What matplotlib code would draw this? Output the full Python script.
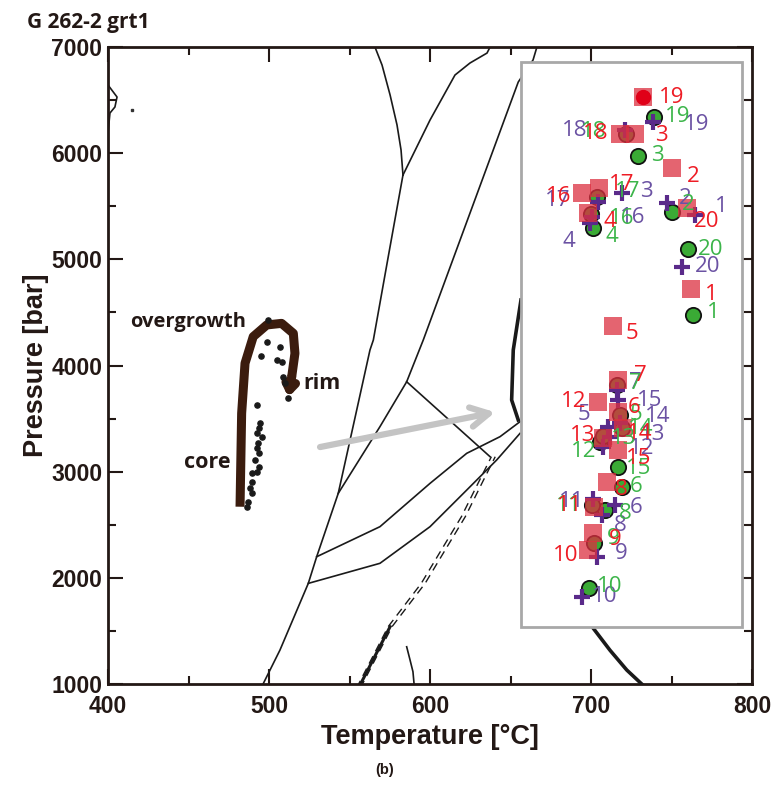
import numpy as np
import matplotlib.pyplot as plt
from matplotlib.patches import Rectangle

plt.rcParams['font.family'] = ['Open Sans', 'DejaVu Sans']

# analysis numbers 1..20 for each thermobarometer
ids = np.arange(1, 21)

red_T = [761.9, 750.1, 727.3, 698.3, 713.8, 716.9, 716.9, 709.7, 701.4, 698.3,
         701.9, 704.5, 707.6, 720.0, 716.9, 694.2, 705.0, 718.0, 732.1, 759.4]
red_P = [4718, 5857, 6181, 5439, 4372, 3565, 3863, 2906, 2420, 2262,
         2670, 3659, 3314, 3409, 3204, 5622, 5669, 6181, 6526, 5481]

green_T = [763.2, 750.1, 729.4, 701.4, 718.0, 719.1, 716.3, 708.7, 701.9, 698.9,
           700.4, 705.6, 707.6, 719.1, 716.9, 699.8, 703.9, 721.7, 739.1, 760.4]
green_P = [4476, 5449, 5973, 5292, 3534, 2858, 3816, 2639, 2325, 1901,
           2686, 3282, 3336, 3409, 3047, 5427, 5590, 6181, 6338, 5097]

purple_T = [764.6, 747.0, 719.1, 699.4, 710.7, 714.9, 716.0, 706.6, 703.5, 694.2,
            701.0, 707.6, 711.8, 718.0, 716.6, 700.4, 704.5, 721.1, 738.7, 756.3]
purple_P = [5418, 5528, 5622, 5339, 3424, 2686, 3769, 2592, 2199, 1822,
            2740, 3235, 3329, 3456, 3675, 5402, 5543, 6218, 6296, 4931]

# label offsets (pixels) for each point, negative dx = label on the left
red_off = [(14, -5), (15, -8), (20, -2), (15, -9), (12, -7), (10, 4), (16, 5), (8, -8), (16, -6), (-10, -5),
           (-12, 1), (-12, 0), (-8, 3), (4, -5), (8, -8), (-10, -3), (10, 4), (-12, 0), (16, 0), (7, -13)]
green_off = [(14, 2), (10, 7), (13, 1), (12, -8), (10, 0), (8, 0), (12, 2), (14, -3), (13, 5), (8, 2),
             (-10, 0), (-4, -10), (8, -2), (6, 0), (8, -2), (18, -4), (18, 5), (-20, 2), (11, 1), (10, 0)]
purple_off = [(20, 8), (12, 5), (18, 2), (-15, -18), (-18, 12), (15, -2), (12, 8), (12, -10), (18, 3), (10, 0),
              (-8, -2), (26, -2), (30, 2), (25, 7), (19, 0), (28, -1), (-28, 1), (-38, 0), (31, -3), (13, 0)]

# garnet P-T path (core -> overgrowth -> rim)
path_T = [482.0, 483.0, 485.1, 490.2, 498.6, 507.8, 515.1, 516.1, 514.1]
path_P = [2670, 3550, 4021, 4272, 4382, 4397, 4303, 4115, 3895]
arrow_tip = (512.0, 3700)

dots_T = [499.6, 498.6, 506.8, 494.8, 504.7, 507.8, 508.9, 509.9, 512.0, 492.7, 494.4, 494.0, 492.4,
          495.5, 493.4, 492.4, 494.0, 491.3, 494.0, 492.4, 489.3, 489.3, 488.2, 489.3, 487.1, 486.1]
dots_P = [4429, 4224, 4177, 4090, 4052, 4036, 3895, 3832, 3691, 3628, 3456, 3409, 3361,
          3330, 3267, 3220, 3173, 3110, 3047, 3000, 2985, 2906, 2843, 2796, 2717, 2670]

# pseudosection field boundaries
lines = [
    ([565.8, 570.2, 575.2, 579.5, 582.0, 583.2], [7000, 6830, 6548, 6266, 6030, 5794]),
    ([583.2, 600.0, 615.5, 624.8, 635.4, 637.3], [5794, 6312, 6736, 6849, 6943, 7000]),
    ([583.2, 574.0, 564.8, 562.7, 553.0, 543.0, 529.6, 524.4, 506.8, 496.3],
     [5794, 5020, 4240, 4146, 3480, 2796, 2199, 1948, 1320, 1000]),
    ([666.4, 664.0, 654.8, 595.8, 585.5, 568.9, 543.0], [7000, 6878, 6670, 4240, 3847, 3424, 2796]),
    ([585.5, 637.3], [3847, 3141]),
    ([529.6, 568.9, 600.0, 622.8, 643.5, 655.9], [2199, 2482, 2890, 3173, 3330, 3471]),
    ([524.4, 568.9, 600.0, 622.8, 641.4, 655.9], [1948, 2137, 2482, 2827, 3110, 3361]),
    ([585.5, 587.6, 589.4, 590.1], [1351, 1226, 1116, 1000]),
    ([400.0, 405.6, 404.3, 401.2, 400.0], [6642, 6529, 6435, 6378, 6190]),
]
dash_T = [555.5, 575.2, 595.8, 608.2, 620.7, 631.0, 639.3]
dash_P = [960, 1540, 1949, 2262, 2576, 2890, 3141]
thick = [([656.5, 651.7, 650.7, 654.8], [4617, 4146, 3675, 3487]),
         ([700.0, 701.4, 711.8, 722.2, 731.5], [1560, 1525, 1318, 1132, 1000])]

fig = plt.figure(figsize=(7.81, 7.94), dpi=100)
ax = fig.add_axes([0.1383, 0.1385, 0.8246, 0.8023])

for t, p in lines:
    ax.plot(t, p, color='#1a1a1a', lw=1.2, zorder=2)
ax.plot(dash_T[:2], dash_P[:2], color='#1a1a1a', lw=2.2, zorder=2)
for s in (-1.2, 1.2):
    ax.plot(np.array(dash_T) + s, dash_P, color='#1a1a1a', lw=1.0, dashes=(6, 4), zorder=2)
for t, p in thick:
    ax.plot(t, p, color='#1a1a1a', lw=2.6, zorder=3)
ax.plot([414.9], [6407], 's', color='#333333', ms=1.5)

# P-T path
dark = '#3b1c0e'
txt = '#231815'
ax.plot(path_T, path_P, color=dark, lw=6.5, solid_capstyle='butt', zorder=4)
ax.annotate('', xy=arrow_tip, xytext=(path_T[-1], path_P[-1]),
            arrowprops=dict(arrowstyle='-|>,head_length=0.5,head_width=0.35', color=dark, lw=6.5,
                            shrinkA=0, shrinkB=0), zorder=4)
ax.scatter(dots_T, dots_P, s=14, color='#1a1a1a', zorder=5)
ax.text(485.5, 4410, 'overgrowth', fontsize=14.5, fontweight='bold', color=txt, ha='right', va='center')
ax.text(521.5, 3830, 'rim', fontsize=15.5, fontweight='bold', color=txt, ha='left', va='center')
ax.text(476, 3090, 'core', fontsize=15.5, fontweight='bold', color=txt, ha='right', va='center')

# grey arrow to the zoomed box
ax.annotate('', xy=(640.5, 3560), xytext=(531.7, 3232),
            arrowprops=dict(arrowstyle='->,head_length=1.3,head_width=0.7', color='#c4c4c4', lw=4.5,
                            shrinkA=0, shrinkB=0), zorder=3)

# zoomed box with thermobarometry results
ax.add_patch(Rectangle((656.5, 1539), 137.3, 5320, facecolor='white', edgecolor='#a8a8a8', lw=2, zorder=6))

ax.plot(green_T, green_P, 'o', ms=11, mfc='#3aaa35', mec='#111111', mew=1.3, zorder=7)
ax.plot(purple_T, purple_P, '+', ms=11, mec='#5a2a8a', mew=3, zorder=8)
ax.plot(red_T, red_P, 's', ms=13.5, color='#dc3040', alpha=0.75, mew=0, zorder=9)
ax.plot(red_T[18], red_P[18], 'o', ms=10, color='#e00018', zorder=10)

for T, P, off, col in ((purple_T, purple_P, purple_off, '#6b52a3'),
                       (green_T, green_P, green_off, '#3cb54a'),
                       (red_T, red_P, red_off, '#ee1c25')):
    for i, n in enumerate(ids):
        dx, dy = off[i]
        ax.annotate(str(n), (T[i], P[i]), xytext=(dx, dy), textcoords='offset pixels',
                    ha='left' if dx > 0 else 'right', va='center', fontsize=16,
                    color=col, zorder=11, annotation_clip=False)

ax.set_xlim(400, 800)
ax.set_ylim(1000, 7000)
ax.set_xticks([400, 500, 600, 700, 800])
ax.set_xticks(np.arange(450, 800, 50), minor=True)
ax.set_yticks(np.arange(1000, 7001, 1000))
ax.set_yticks(np.arange(1500, 7000, 500), minor=True)
ax.tick_params(which='both', direction='in', top=True, right=True, width=1.5, color=txt)
ax.tick_params(which='major', length=11, labelsize=16.5, pad=4)
ax.tick_params(axis='x', which='major', pad=8)
ax.tick_params(which='minor', length=6)
for lab in ax.get_xticklabels() + ax.get_yticklabels():
    lab.set_fontweight('bold')
    lab.set_color(txt)
    lab.set_family(['Liberation Sans', 'DejaVu Sans'])
for sp in ax.spines.values():
    sp.set_linewidth(2)
    sp.set_color(txt)

ax.set_xlabel('Temperature [°C]', fontsize=19.5, fontweight='bold', color=txt, labelpad=4,
              family=['Liberation Sans', 'DejaVu Sans'])
ax.set_ylabel('Pressure [bar]', fontsize=19.5, fontweight='bold', color=txt, labelpad=2,
              family=['Liberation Sans', 'DejaVu Sans'])
fig.text(0.035, 0.972, 'G 262-2 grt1', fontsize=15, fontweight='bold', color=txt, va='center')
fig.text(0.493, 0.03, '(b)', fontsize=10.5, fontweight='bold', color=txt, ha='center', va='center',
         family=['Liberation Sans', 'DejaVu Sans'])

fig.savefig('out.png', dpi=100)
